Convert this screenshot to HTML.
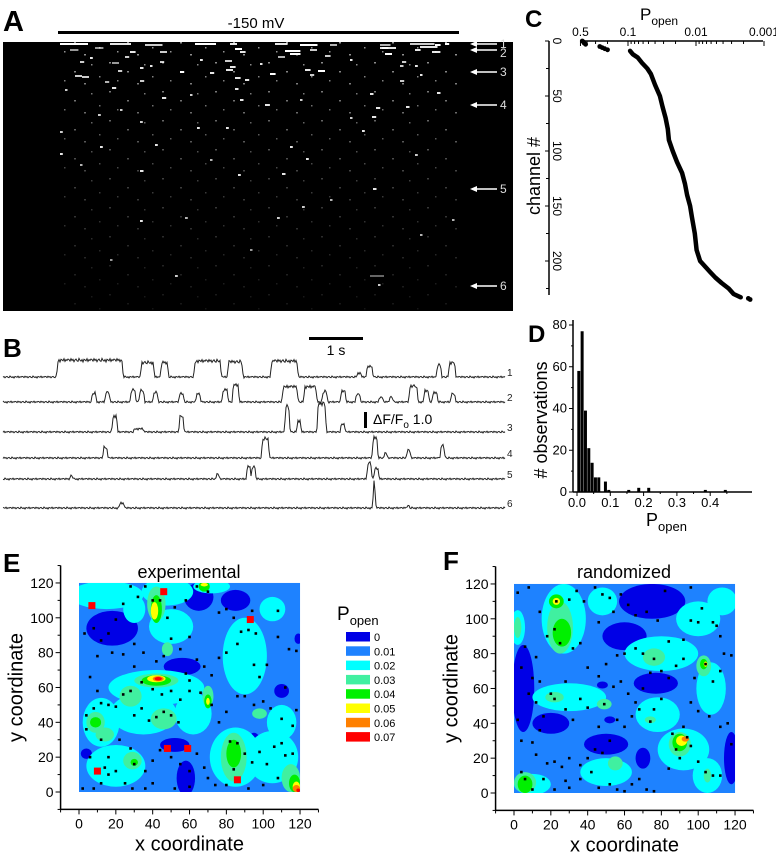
<!DOCTYPE html>
<html><head><meta charset="utf-8"><style>
html,body{margin:0;padding:0;background:#fff;}
svg{display:block;font-family:"Liberation Sans",Arial,sans-serif;}
</style></head><body>
<svg id="fig" width="776" height="853" viewBox="0 0 776 853" xmlns="http://www.w3.org/2000/svg">
<defs>
<pattern id="speck" width="53" height="29" patternUnits="userSpaceOnUse">
<rect x="3" y="4" width="2" height="1.5" fill="#fff"/>
<rect x="21" y="13" width="2" height="1.5" fill="#fff"/>
<rect x="38" y="6" width="1.5" height="1.5" fill="#fff"/>
<rect x="11" y="22" width="1.5" height="1.5" fill="#fff"/>
<rect x="31" y="25" width="2" height="1.5" fill="#fff"/>
<rect x="46" y="18" width="1.5" height="1.5" fill="#fff"/>
</pattern>
<linearGradient id="fadeG" x1="0" y1="0" x2="0" y2="1">
<stop offset="0" stop-color="#fff" stop-opacity="0.6"/>
<stop offset="0.5" stop-color="#fff" stop-opacity="0.25"/>
<stop offset="1" stop-color="#fff" stop-opacity="0.08"/>
</linearGradient>
<mask id="fadeM"><rect x="58" y="42" width="400" height="269" fill="url(#fadeG)"/></mask>
</defs>
<g id="panelA">
<text x="3" y="31" font-size="29" font-weight="bold">A</text>
<text x="256" y="28" font-size="15" text-anchor="middle">-150 mV</text>
<rect x="58" y="31" width="401" height="3" fill="#000"/>
<rect x="3" y="42" width="510" height="269" fill="#000"/>
<rect x="58" y="42" width="400" height="269" fill="url(#speck)" mask="url(#fadeM)"/>
<g id="streaks"></g>
<g id="arrows"></g>
</g>
<g id="panelC">
<text x="525" y="27" font-size="24" font-weight="bold">C</text>
<text x="640" y="20" font-size="17">P<tspan font-size="12" dy="5">open</tspan></text>
<text transform="translate(540,176) rotate(-90)" font-size="18" text-anchor="middle">channel #</text>
<g id="cAxes"></g><g id="cData"></g>
</g>
<g id="panelB">
<text x="3" y="357" font-size="26" font-weight="bold">B</text>
<rect x="309" y="337" width="54" height="3" fill="#000"/>
<text x="336" y="355" font-size="14" text-anchor="middle">1 s</text>
<rect x="364" y="412" width="3" height="16" fill="#000"/>
<text x="373" y="424" font-size="14">ΔF/F<tspan font-size="10" dy="4">o</tspan><tspan dy="-4">  1.0</tspan></text>
<g id="traces"></g>
</g>
<g id="panelD">
<text x="528" y="342" font-size="24" font-weight="bold">D</text>
<text transform="translate(547,420) rotate(-90)" font-size="18" text-anchor="middle"># observations</text>
<text x="646" y="526" font-size="18">P<tspan font-size="13" dy="5">open</tspan></text>
<g id="dChart"></g>
</g>
<g id="panelE">
<text x="3" y="572" font-size="26" font-weight="bold">E</text>
<text x="189" y="578" font-size="18" text-anchor="middle">experimental</text>
<g id="eMap"></g>
<text x="337" y="620" font-size="19">P<tspan font-size="13" dy="5">open</tspan></text>
<g id="legend"></g>
</g>
<g id="panelF">
<text x="443" y="570" font-size="26" font-weight="bold">F</text>
<text x="624" y="578" font-size="18" text-anchor="middle">randomized</text>
<g id="fMap"></g>
</g>
</svg>
<script>
// ---------- data ----------
const arrowLabels=["1","2","3","4","5","6"];
const arrowRows=[44,50,72,105,189,286];
const streakData=[[60,44,40,1],[110,44,30,0.9],[145,45,25,0.8],[195,44,30,1],[230,44,10,0.9],[275,44,18,0.9],[300,45,25,1],[330,45,10,0.7],[380,45,15,0.7],[410,44,35,0.8],[420,47,25,0.9],[435,45,8,1],[445,44,6,1],
[70,50,12,0.6],[95,48,12,0.6],[130,52,8,0.9],[160,52,10,0.8],[235,49,10,1],[240,52,8,0.9],[285,51,22,1],[290,54,15,1],[310,50,10,0.8],[380,48,12,0.9],[385,54,10,1],[415,50,8,0.9],[432,52,12,0.9],[382,48,20,0.9],
[80,62,6,0.8],[112,63,10,0.6],[125,57,6,0.8],[160,62,6,0.8],[225,61,10,0.8],[230,67,8,0.9],[278,57,10,0.7],[325,56,8,0.8],[402,62,6,0.8],[75,76,10,0.8],[118,71,6,0.8],[140,68,5,0.9],[180,72,6,1],[210,73,6,0.9],[226,70,10,0.9],[270,74,8,1],[305,70,8,0.9],[318,71,10,1],[400,66,5,0.8],[415,66,4,0.9],
[82,77,10,0.8],[105,82,6,0.7],[140,81,6,0.8],[235,78,8,0.9],[245,80,6,0.9],[310,75,6,0.8],[400,81,6,0.8],[112,88,6,0.9],[235,89,5,0.9],[162,98,6,0.9],[265,105,7,0.9],[240,100,5,0.9],[370,94,5,0.9],[376,108,6,0.9],[372,117,6,0.9],[437,93,5,0.9],[406,107,5,0.9],
[60,132,4,0.8],[98,115,4,0.8],[140,122,4,0.8],[197,128,4,0.9],[226,128,4,0.9],[100,147,4,0.9],[60,154,4,0.9],[155,145,4,0.9],[290,147,4,0.9],[306,159,4,0.9],[362,131,4,0.9],[415,155,4,0.8],[140,171,5,0.9],[238,175,4,0.9],[282,174,5,0.9],[373,189,5,0.9],[302,207,4,0.8],[140,221,4,0.9],[277,218,4,0.8],[185,218,4,0.7],[175,276,4,0.8],[370,276,20,0.4],[378,285,3,0.8],[452,220,3,0.7],
[90,58,4,0.9],[150,66,3,0.9],[200,60,4,0.9],[260,64,3,0.9],[350,60,3,0.9],[420,75,3,0.9],[65,90,3,0.8],[190,95,3,0.8],[300,100,3,0.8],[350,118,3,0.8],[120,110,3,0.8],[80,165,3,0.7],[210,160,3,0.7],[330,200,3,0.7],[420,235,3,0.7],[250,250,3,0.6],[110,260,3,0.6]];
const traceEvents=[
[[1.02,1.18,1.05],[2.57,0.21,0.9],[2.94,0.1,0.9],[3.56,0.46,1.0],[4.18,0.24,0.95],[4.98,0.46,1.0],[6.57,0.05,0.25],[6.75,0.08,0.65],[8.05,0.05,0.75],[8.27,0.09,0.9]],
[[1.66,0.05,0.55],[1.91,0.05,0.6],[2.38,0.06,0.75],[2.54,0.06,0.7],[2.8,0.05,0.6],[3.28,0.05,0.55],[3.59,0.05,0.5],[4.08,0.07,0.75],[4.27,0.08,1.1],[5.19,0.25,0.95],[5.59,0.2,0.95],[5.93,0.06,0.65],[6.27,0.06,0.7],[6.55,0.05,0.5],[6.98,0.04,0.3],[7.17,0.04,0.3],[7.54,0.12,1.0],[7.81,0.06,0.7],[7.97,0.06,0.6],[8.31,0.05,0.5]],
[[2.04,0.06,1.0],[2.44,0.15,0.2],[3.28,0.05,1.0],[5.24,0.05,1.6],[5.46,0.04,0.7],[5.84,0.12,1.8],[6.27,0.05,0.5]],
[[1.87,0.05,0.65],[4.81,0.1,1.2],[6.86,0.06,1.3],[7.07,0.03,0.3],[7.49,0.04,0.5],[8.12,0.04,0.8]],
[[1.26,0.02,0.2],[3.96,0.03,0.3],[4.53,0.04,0.8],[4.62,0.04,0.8],[6.76,0.05,1.0],[6.89,0.05,0.7]],
[[2.17,0.06,0.3],[6.87,0.01,1.6],[7.49,0.02,0.15]]];
const traceBaselines=[377,402,432,458,479,508];
const noise=[0.02,-0.03,0.05,-0.01,0.03,-0.05,0.01,0.04,-0.02,-0.04,0.06,0,-0.03,0.02,-0.06,0.03,0.01,-0.02,0.05,-0.04,0.02,-0.01,0.04];
const cChannels=[9,12,15,20,25,30,40,50,60,70,80,90,100,110,120,130,140,150,160,175,190,200,210,215,220,225,230,233];
const cPopen=[0.093,0.085,0.072,0.062,0.052,0.046,0.04,0.034,0.031,0.028,0.026,0.025,0.022,0.019,0.016,0.0145,0.0135,0.0122,0.0115,0.0104,0.0098,0.0087,0.0062,0.0052,0.0042,0.0033,0.0028,0.0022];
const cOutCh=[0,1,2,3,5,6,7,8,234,235];
const cOutP=[0.47,0.45,0.44,0.42,0.26,0.24,0.22,0.2,0.0017,0.0016];
const cXTicks=[0.5,0.1,0.01,0.001];
const cYTicks=[0,50,100,150,200];
const histBinStart=[0,0.01,0.02,0.03,0.04,0.05,0.06,0.08,0.09,0.15,0.18,0.21,0.38,0.44];
const histCounts=[58,77,39,21,14,7,7,5,1,1,2,2,1,1];
const dXTicks=["0.0","0.1","0.2","0.3","0.4"];
const dYTicks=[0,20,40,60,80];
const levelColors=["#0000e6","#1e82ff","#00ffff","#40f0a0","#00f000","#ffff00","#ff8000","#ff0000"];
const levelLabels=["0","0.01","0.02","0.03","0.04","0.05","0.06","0.07"];
const mapTicks=[0,20,40,60,80,100,120];
const eRegions=[[18,94,14,10,0],[65,112,8,8,0],[85,110,8,6,0],[110,58,4,4,0],[58,8,5,10,0],[56,72,10,5,0],[95,27,4,7,0],[4,22,3,3,0],[52,27,8,4,0],[119,88,2,3,0],
[15,113,20,8,2],[48,115,14,8,2],[50,95,12,10,2],[42,60,26,10,2],[35,45,18,12,2],[90,78,12,22,2],[105,105,7,7,2],[12,40,10,14,2],[20,15,16,12,2],[85,20,14,17,2],[105,20,14,15,2],[62,45,10,12,2],[30,105,6,8,2],[110,40,8,10,2],[72,118,10,4,2],
[42,108,5,10,3],[42,64,12,4,3],[9,40,5,6,3],[14,33,5,4,3],[29,18,5,5,3],[46,42,7,6,3],[84,20,7,14,3],[98,45,4,3,3],[28,55,6,6,3],[70,55,3,6,3],[115,8,5,8,3],[48,82,3,4,3],
[42,105,3,8,4],[42,64,8,3,4],[84,22,4,8,4],[9,40,3,3,4],[68,118,3,3,4],[117,5,3,5,4],[70,52,2,4,4],[30,17,2,2,4],
[41,104,2,5,5],[42,65,5,2,5],[118,3,2,3,5],[68,119,2,1,5],[70,52,1,2,5],
[43,65,3,1.5,6],[118,2,2,2,6],[43,65,2,1,7],[119,1,1,1,7]];
const eDots=[[3,91],[8,94],[6,66],[4,44],[2,2],[8,2],[12,5],[16,10],[20,12],[25,5],[29,2],[36,2],[40,5],[30,16],[28,25],[22,30],[16,20],[12,30],[8,48],[12,51],[16,50],[20,49],[24,56],[28,58],[30,44],[34,48],[38,41],[42,43],[46,46],[50,44],[54,40],[45,56],[50,58],[55,53],[60,58],[66,57],[72,50],[76,40],[80,46],[86,55],[90,55],[95,50],[100,52],[104,48],[110,42],[116,38],[118,47],[112,60],[114,82],[118,81],[108,89],[102,73],[98,66],[95,73],[96,91],[92,93],[88,92],[86,85],[84,100],[80,105],[76,103],[70,115],[64,118],[58,110],[52,106],[48,100],[44,110],[40,110],[36,118],[32,112],[28,118],[24,108],[20,99],[16,91],[12,87],[10,78],[18,80],[24,79],[30,85],[35,80],[42,75],[46,78],[50,88],[55,82],[60,89],[64,76],[68,72],[72,67],[76,77],[80,80],[58,68],[60,64],[34,63],[30,72],[40,59],[10,58],[4,36],[6,20],[14,14],[44,24],[40,18],[36,12],[50,20],[55,16],[60,12],[64,22],[68,14],[70,8],[74,4],[80,4],[84,13],[82,29],[86,28],[90,22],[94,17],[98,23],[102,16],[106,26],[110,28],[112,21],[116,22],[108,8],[100,4],[92,2],[60,3],[52,2],[108,104],[94,104]];
const eSquares=[[7,107],[46,115],[93,99],[48,25],[59,25],[10,12],[86,7]];
const fRegions=[[75,110,18,10,0],[60,90,12,8,0],[5,60,6,25,0],[50,28,12,6,0],[77,63,12,6,0],[118,20,4,15,0],[20,40,10,6,0],[70,20,4,6,0],[48,62,3,2,0],[52,42,3,2,0],
[27,100,12,20,2],[2,95,4,10,2],[80,80,20,10,2],[100,100,12,10,2],[107,60,8,15,2],[30,55,20,8,2],[78,45,12,10,2],[92,25,14,12,2],[10,5,10,6,2],[50,12,14,8,2],[105,10,8,10,2],[113,110,8,8,2],[48,110,8,8,2],
[25,95,7,15,3],[2,95,2,6,3],[76,78,6,5,3],[103,73,4,6,3],[22,55,5,3,3],[49,51,4,3,3],[90,28,6,7,3],[6,6,6,6,3],[55,17,4,4,3],[74,42,3,2,3],[105,10,2,4,3],
[26,92,5,8,4],[23,110,4,4,4],[6,5,4,5,4],[90,29,4,5,4],[103,74,2,3,4],
[23,110,2,2,5],[91,30,3,3,5],[104,74,1,1.5,5],[93,31,2,1.5,6]];
const fDots=[[2,115],[8,118],[14,104],[4,72],[6,84],[2,42],[4,30],[6,8],[4,12],[10,2],[16,8],[22,2],[28,7],[30,3],[36,8],[42,12],[46,3],[52,5],[56,2],[60,1],[64,5],[68,8],[72,2],[76,1],[84,14],[88,25],[90,20],[94,32],[96,27],[100,18],[104,12],[108,10],[112,10],[118,28],[116,40],[112,38],[106,44],[100,47],[96,52],[92,38],[86,34],[80,54],[76,48],[74,41],[68,48],[64,44],[60,38],[56,42],[52,30],[48,23],[44,25],[40,20],[36,16],[30,20],[26,15],[22,18],[18,17],[12,22],[10,29],[14,36],[16,44],[12,52],[8,57],[14,64],[20,57],[22,54],[28,48],[32,42],[36,54],[40,49],[46,38],[49,51],[54,61],[58,64],[62,57],[66,52],[70,60],[74,69],[80,70],[84,66],[88,73],[92,77],[98,66],[104,74],[108,64],[112,70],[114,80],[118,79],[112,90],[108,98],[100,98],[96,99],[92,88],[84,87],[76,77],[70,80],[66,83],[60,80],[56,79],[50,74],[46,67],[40,72],[36,86],[32,83],[25,86],[22,94],[23,110],[30,111],[34,116],[38,110],[44,118],[48,114],[52,112],[58,114],[62,108],[66,102],[72,104],[78,99],[82,116],[96,118],[102,106],[110,96],[54,104],[46,98],[18,90],[12,78],[10,66],[28,64]];

// ---------- helpers ----------
const NS="http://www.w3.org/2000/svg";
function mk(tag,parent,attrs){const e=document.createElementNS(NS,tag);for(const k in attrs)e.setAttribute(k,attrs[k]);parent.appendChild(e);return e;}

// ---------- Panel A ----------
const gS=document.getElementById('streaks');
streakData.forEach(s=>{const r=mk('rect',gS,{x:s[0],y:s[1]-1,width:Math.max(2.5,s[2]*0.7),height:2,fill:'#fff','fill-opacity':s[3]});

});
const gA=document.getElementById('arrows');
arrowRows.forEach((y,i)=>{
 const l=mk('line',gA,{x1:474,y1:y,x2:497,y2:y,stroke:'#fff','stroke-width':1.5});
 
 
 const p=mk('path',gA,{d:`M470 ${y} L477 ${y-3} L477 ${y+3} Z`,fill:'#fff'});
 
 
 const t=mk('text',gA,{x:500,y:y+4+(i==1?3:0),'font-size':12,fill:'#ddd'});t.textContent=arrowLabels[i];
 
 
});

// ---------- Panel B ----------
const gT=document.getElementById('traces');
const px0=3,pxPerSec=54,pxPerUnit=16;
traceEvents.forEach((evs,ti)=>{
 const base=traceBaselines[ti];let d='';
 for(let x=px0;x<=505;x++){
  const t=(x-px0)/pxPerSec;let v=0;
  evs.forEach(e=>{const r=0.03,s=e[0],en=e[0]+e[1];
   let a=0;if(t>=s-r&&t<s)a=(t-s+r)/r;else if(t>=s&&t<=en)a=1;else if(t>en&&t<en+r)a=1-(t-en)/r;
   v=Math.max(v,a*e[2]);});
  const n=noise[(x+ti*7)%noise.length]*(1+v*0.8);
  const y=base-(v+n)*pxPerUnit;
  d+=(x==px0?'M':'L')+x+' '+y.toFixed(1);
 }
 const p=mk('path',gT,{d:d,fill:'none',stroke:'#222','stroke-width':1});
 
 
 const lb=mk('text',gT,{x:507,y:base-1,'font-size':10,fill:'#222'});lb.textContent=String(ti+1);
 
 
});

// ---------- Panel C ----------
const cx=p=>628+(-1-Math.log10(p))*68;
const cy=c=>41+1.1*c;
const gCA=document.getElementById('cAxes');
mk('line',gCA,{x1:580,y1:41,x2:763,y2:41,stroke:'#000','stroke-width':1.5});
mk('line',gCA,{x1:549,y1:41,x2:549,y2:295,stroke:'#000','stroke-width':1.5});
cXTicks.forEach(v=>{const x=cx(v);
 mk('line',gCA,{x1:x,y1:41,x2:x,y2:46,stroke:'#000'});
 const t=mk('text',gCA,{x:x,y:36,'font-size':12,'text-anchor':'middle'});t.textContent=String(v);
 
 });
[1,0.1,0.01].forEach(dec=>{for(let k=2;k<=9;k++){const v=dec*k/10;if(v<0.5&&v>0.001){const x=cx(v);mk('line',gCA,{x1:x,y1:41,x2:x,y2:44,stroke:'#000'});}}});
cYTicks.forEach(c=>{const y=cy(c);
 mk('line',gCA,{x1:545,y1:y,x2:549,y2:y,stroke:'#000'});
 const t=mk('text',gCA,{transform:`translate(553,${y}) rotate(90)`,'font-size':12,'text-anchor':'middle'});t.textContent=String(c);
 
 });
[25,75,125,175,225].forEach(c=>mk('line',gCA,{x1:546,y1:cy(c),x2:549,y2:cy(c),stroke:'#000'}));
const gCD=document.getElementById('cData');
const cpts=cChannels.map((c,i)=>cx(cPopen[i]).toFixed(1)+','+cy(c).toFixed(1)).join(' ');
const cl=mk('polyline',gCD,{points:cpts,fill:'none',stroke:'#000','stroke-width':4.5,'stroke-linecap':'round','stroke-linejoin':'round'});


cOutCh.forEach((c,i)=>{const d=mk('circle',gCD,{cx:cx(cOutP[i]),cy:cy(c),r:2.4,fill:'#000'});
 
 });

// ---------- Panel D ----------
const dx=v=>577+v*333;
const dy=v=>492-v*167/80;
const gD=document.getElementById('dChart');
mk('line',gD,{x1:573,y1:320,x2:573,y2:492,stroke:'#000','stroke-width':1.5});
mk('line',gD,{x1:573,y1:492,x2:752,y2:492,stroke:'#000','stroke-width':1.5});
histBinStart.forEach((b,i)=>{const x=dx(b),h=histCounts[i];
 const r=mk('rect',gD,{x:x+0.3,y:dy(h),width:3.0,height:492-dy(h)+0.01,fill:'#000'});
 
 });
dXTicks.forEach((l,i)=>{const x=dx(i*0.1);
 mk('line',gD,{x1:x,y1:492,x2:x,y2:496,stroke:'#000'});
 mk('line',gD,{x1:dx(i*0.1+0.05),y1:492,x2:dx(i*0.1+0.05),y2:494,stroke:'#000'});
 const t=mk('text',gD,{x:x,y:507,'font-size':13,'text-anchor':'middle'});t.textContent=l;
 
 });
dYTicks.forEach(v=>{const y=dy(v);
 mk('line',gD,{x1:569,y1:y,x2:573,y2:y,stroke:'#000'});
 if(v<80)mk('line',gD,{x1:571,y1:dy(v+10),x2:573,y2:dy(v+10),stroke:'#000'});
 const t=mk('text',gD,{x:567,y:y+4,'font-size':13,'text-anchor':'end'});t.textContent=String(v);
 
 });

// ---------- Panels E & F ----------
function drawMap(g,X0,Y0,regions,dots,squares,prefix){
 const sx=v=>X0+v*1.842, sy=v=>Y0-v*1.742;
 const clipId=prefix+'clip';
 const cp=mk('clipPath',g,{id:clipId});mk('rect',cp,{x:sx(0),y:sy(120),width:120*1.842,height:120*1.742});
 const bg=mk('rect',g,{x:sx(0),y:sy(120),width:120*1.842,height:120*1.742,fill:levelColors[1]});
 
 
 const gc=mk('g',g,{'clip-path':`url(#${clipId})`});
 regions.slice().sort((a,b)=>a[4]-b[4]).forEach(r=>{
  const e=mk('ellipse',gc,{cx:sx(r[0]),cy:sy(r[1]),rx:r[2]*1.842,ry:r[3]*1.742,fill:levelColors[r[4]]});
  
  });
 dots.forEach(d=>{const r=mk('rect',g,{x:sx(d[0])-1.3,y:sy(d[1])-1.3,width:2.6,height:2.6,fill:'#000'});
  
  });
 squares.forEach(d=>{const r=mk('rect',g,{x:sx(d[0])-3.5,y:sy(d[1])-3.5,width:7,height:7,fill:'#ff0000'});
  
  });
 const axL=sx(-10),axB=sy(-10),axR=sx(130),axT=sy(130);
 mk('line',g,{x1:axL,y1:axT,x2:axL,y2:axB,stroke:'#000','stroke-width':1.5});
 mk('line',g,{x1:axL,y1:axB,x2:axR,y2:axB,stroke:'#000','stroke-width':1.5});
 for(let v=-10;v<=130;v+=10){const maj=(v%20===0);
  mk('line',g,{x1:axL,y1:sy(v),x2:axL-(maj?5:3),y2:sy(v),stroke:'#000'});
  mk('line',g,{x1:sx(v),y1:axB,x2:sx(v),y2:axB+(maj?5:3),stroke:'#000'});}
 mapTicks.forEach(v=>{
  const ty=mk('text',g,{x:axL-7,y:sy(v)+5,'font-size':14,'text-anchor':'end'});ty.textContent=String(v);
  
  
  const tx=mk('text',g,{x:sx(v),y:axB+19,'font-size':14,'text-anchor':'middle'});tx.textContent=String(v);
  
  });
 const xt=mk('text',g,{x:(axL+axR)/2,y:axB+41,'font-size':20,'text-anchor':'middle'});xt.textContent='x coordinate';
 
 
 const yt=mk('text',g,{transform:`translate(${axL-38},${(axT+axB)/2}) rotate(-90)`,'font-size':20,'text-anchor':'middle'});yt.textContent='y coordinate';
 
 
}
drawMap(document.getElementById('eMap'),79,792,eRegions,eDots,eSquares,'e');
drawMap(document.getElementById('fMap'),514,793,fRegions,fDots,[],'f');
const gL=document.getElementById('legend');
levelColors.forEach((c,i)=>{const y=632+i*14.3;
 const r=mk('rect',gL,{x:346,y:y,width:24,height:9.5,fill:c});
 
 
 const t=mk('text',gL,{x:374,y:y+9,'font-size':11});t.textContent=levelLabels[i];
 
 });
</script>
</body></html>
